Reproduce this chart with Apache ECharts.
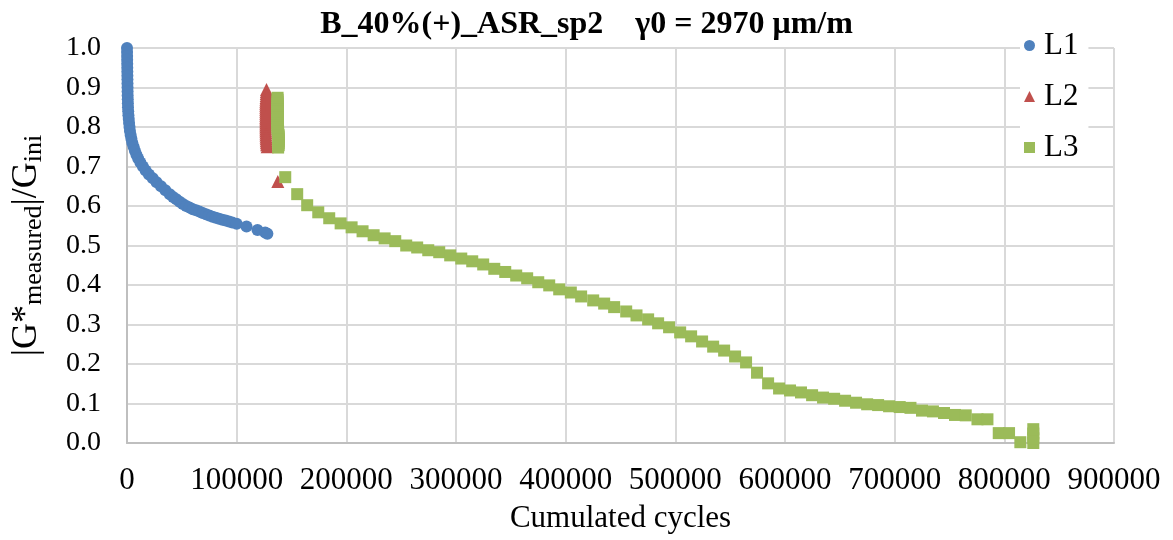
<!DOCTYPE html>
<html>
<head>
<meta charset="utf-8">
<script src="https://cdn.jsdelivr.net/npm/echarts@6/dist/echarts.min.js"></script>
<style>
html,body{margin:0;padding:0;background:#fff;}
#chart{width:1173px;height:540px;}
</style>
</head>
<body>
<div id="chart"></div>
<script>
// ---- data (cycles, |G*|/Gini) ----
const seriesNames = ['L1', 'L2', 'L3'];
const xTicks = [0, 100000, 200000, 300000, 400000, 500000, 600000, 700000, 800000, 900000];
const yTicks = [0.0, 0.1, 0.2, 0.3, 0.4, 0.5, 0.6, 0.7, 0.8, 0.9, 1.0];

const L1 = [
  [0,1.0],[50,0.99],[100,0.98],[150,0.97],[200,0.96],[250,0.95],[300,0.94],[350,0.93],
  [400,0.92],[450,0.91],[500,0.90],[550,0.89],[600,0.88],[700,0.87],[800,0.86],[900,0.85],
  [1100,0.84],[1300,0.83],[1600,0.82],[1900,0.81],[2300,0.80],[2700,0.79],[3300,0.78],
  [4000,0.77],[4800,0.76],[6000,0.75],[7200,0.74],[8600,0.73],[10200,0.72],[12200,0.71],
  [14500,0.70],[17000,0.69],[20000,0.68],[23500,0.67],[27000,0.66],[31000,0.65],
  [35000,0.64],[39000,0.63],[42000,0.623],[45000,0.617],[48000,0.611],[51000,0.605],
  [54000,0.600],[57000,0.596],[60000,0.592],[63000,0.589],[66000,0.586],[69000,0.582],
  [72000,0.579],[75000,0.576],[78000,0.573],[81000,0.570],[84000,0.568],[87000,0.565],
  [90000,0.563],[93000,0.561],[96000,0.558],[100000,0.555],[109000,0.548],[119000,0.539],
  [126000,0.533],[128000,0.530]
];

const L2 = [
  [127200,0.895],[127100,0.890],[127000,0.885],[126900,0.880],[126800,0.875],[126700,0.870],
  [126600,0.865],[126500,0.860],[126500,0.855],[126500,0.850],[126500,0.845],[126500,0.840],
  [126500,0.835],[126500,0.830],[126500,0.825],[126500,0.820],[126500,0.815],[126500,0.810],
  [126500,0.805],[126500,0.800],[126600,0.795],[126600,0.790],[126700,0.785],[126700,0.780],
  [126800,0.775],[126900,0.770],[127000,0.765],[127100,0.760],[127300,0.755],[127800,0.750],
  [137500,0.662]
];

const L3 = [
  [137300,0.874],[137300,0.869],[137300,0.864],[137300,0.859],[137300,0.854],[137300,0.849],
  [137300,0.844],[137300,0.839],[137300,0.834],[137300,0.829],[137300,0.824],[137300,0.819],
  [137300,0.814],[137300,0.809],[137300,0.804],[137300,0.799],[137300,0.794],[137800,0.789],
  [137800,0.784],[138300,0.779],[138300,0.774],[138300,0.769],[138300,0.764],[138300,0.759],
  [138300,0.754],[137800,0.748],
  [144300,0.673],[155200,0.630],[164300,0.602],[174400,0.584],[184400,0.569],[194800,0.556],
  [204800,0.546],[214800,0.536],[224900,0.526],[234900,0.518],[244600,0.511],[254600,0.500],
  [264600,0.495],[274700,0.488],[284700,0.483],[294700,0.475],[304800,0.467],[314800,0.460],
  [324800,0.452],[334900,0.441],[344900,0.433],[354900,0.424],[364900,0.417],[375000,0.407],
  [385000,0.399],[394100,0.389],[404700,0.381],[414100,0.371],[425100,0.361],[435100,0.353],
  [444200,0.344],[455200,0.333],[464600,0.323],[475200,0.313],[484300,0.303],[494300,0.293],
  [504400,0.280],[514400,0.270],[524400,0.257],[534500,0.244],[544500,0.234],[554500,0.219],
  [564500,0.204],[574500,0.178],[584600,0.151],[594600,0.138],[604600,0.133],[614600,0.128],
  [624700,0.121],[634700,0.115],[644800,0.112],[654800,0.107],[664800,0.102],[674900,0.098],
  [684900,0.096],[694900,0.093],[704600,0.091],[714400,0.089],[724900,0.082],[734900,0.080],
  [745000,0.076],[755000,0.071],[764800,0.070],[775500,0.060],[784600,0.060],[794900,0.025],
  [804300,0.025],[814600,0.002],[826400,0.000],[826400,0.012],[826400,0.024],[826400,0.035]
];

const colors = ['#4F81BD', '#C0504D', '#9BBB59'];
const symbols = ['circle', 'triangle', 'rect'];
const symbolSizes = [12, 13, 12];
const serif = '"Liberation Serif", "Times New Roman", serif';

const chart = echarts.init(document.getElementById('chart'), null, {renderer: 'canvas'});
const option = {
  animation: false,
  backgroundColor: '#ffffff',
  title: {
    text: 'B_40%(+)_ASR_sp2    \u03B30 = 2970 \u03BCm/m',
    left: 'center',
    top: 4,
    textStyle: {fontFamily: serif, fontSize: 32, fontWeight: 'bold', color: '#000'}
  },
  legend: {
    orient: 'vertical',
    left: 1020,
    top: 28,
    itemGap: 20,
    itemWidth: 11,
    itemHeight: 11,
    backgroundColor: '#ffffff',
    padding: [2, 10, 2, 4],
    textStyle: {fontFamily: serif, fontSize: 31, color: '#000', padding: [0, 0, 0, 4]},
    data: seriesNames.map((n, i) => ({name: n, icon: symbols[i]}))
  },
  grid: {left: 127, right: 59, top: 48, bottom: 97},
  xAxis: {
    type: 'value',
    min: xTicks[0],
    max: xTicks[xTicks.length - 1],
    interval: xTicks[1] - xTicks[0],
    name: 'Cumulated cycles',
    nameLocation: 'middle',
    nameGap: 60,
    nameTextStyle: {fontFamily: serif, fontSize: 31, color: '#000'},
    axisLine: {show: true, lineStyle: {color: '#BFBFBF', width: 2}},
    axisTick: {show: false},
    axisLabel: {fontFamily: serif, fontSize: 31, color: '#000', margin: 22,
      formatter: v => String(v)},
    splitLine: {show: true, lineStyle: {color: '#D9D9D9', width: 2}}
  },
  yAxis: {
    type: 'value',
    min: yTicks[0],
    max: yTicks[yTicks.length - 1],
    interval: 0.1,
    name: '{a||G*}{b|measured}{a||/G}{b|ini}',
    nameLocation: 'middle',
    nameGap: 80,
    nameRotate: 90,
    nameTextStyle: {
      fontFamily: serif, color: '#000',
      rich: {
        a: {fontFamily: serif, fontSize: 36, color: '#000', lineHeight: 40, verticalAlign: 'middle'},
        b: {fontFamily: serif, fontSize: 26, color: '#000', lineHeight: 24, verticalAlign: 'bottom'}
      }
    },
    axisLine: {show: true, lineStyle: {color: '#BFBFBF', width: 2}},
    axisTick: {show: false},
    axisLabel: {fontFamily: serif, fontSize: 28, color: '#000', margin: 26,
      formatter: v => v.toFixed(1)},
    splitLine: {show: true, lineStyle: {color: '#D9D9D9', width: 2}}
  },
  series: [L1, L2, L3].map((d, i) => ({
    name: seriesNames[i],
    type: 'scatter',
    data: d,
    symbol: symbols[i],
    symbolSize: symbolSizes[i],
    clip: false,
    itemStyle: {color: colors[i], opacity: 1},
    emphasis: {disabled: true},
    z: 2 + i
  }))
};
chart.setOption(option);
</script>
</body>
</html>
